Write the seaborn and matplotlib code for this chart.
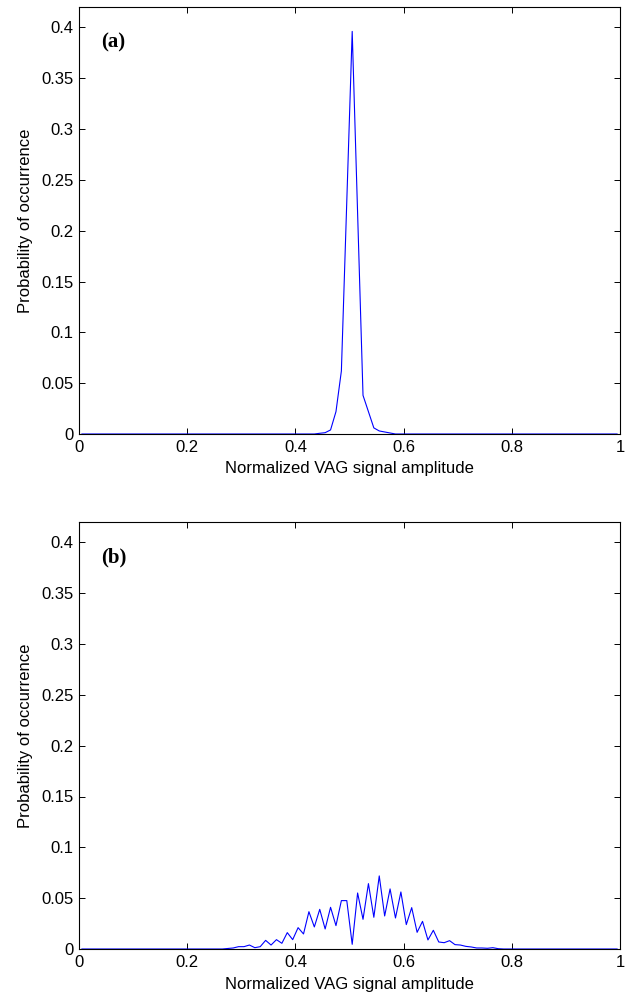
import matplotlib
matplotlib.use("Agg")
import matplotlib.pyplot as plt
import seaborn as sns

# histogram (a): bin centres and probability
amp_a = [0.005, 0.435, 0.445, 0.455, 0.465, 0.475, 0.485, 0.505, 0.525, 0.545,
         0.555, 0.565, 0.575, 0.585, 0.995]
prob_a = [0.0, 0.0, 0.0007, 0.0013, 0.004, 0.022, 0.062, 0.396, 0.038, 0.006,
          0.003, 0.002, 0.001, 0.0, 0.0]

# histogram (b)
amp_b = [0.005, 0.265, 0.275, 0.285, 0.295, 0.305, 0.315, 0.325, 0.335, 0.345,
         0.355, 0.365, 0.375, 0.385, 0.395, 0.405, 0.415, 0.425, 0.435, 0.445,
         0.455, 0.465, 0.475, 0.485, 0.495, 0.505, 0.515, 0.525, 0.535, 0.545,
         0.555, 0.565, 0.575, 0.585, 0.595, 0.605, 0.615, 0.625, 0.635, 0.645,
         0.655, 0.665, 0.675, 0.685, 0.695, 0.705, 0.715, 0.725, 0.735, 0.745,
         0.755, 0.765, 0.775, 0.785, 0.995]
prob_b = [0.0, 0.0, 0.0005, 0.001, 0.0023, 0.0023, 0.0039, 0.0013, 0.0023, 0.0085,
          0.0039, 0.0092, 0.0056, 0.0161, 0.0092, 0.021, 0.0148, 0.0367, 0.0217, 0.039,
          0.0197, 0.041, 0.023, 0.0476, 0.0476, 0.0046, 0.0551, 0.0292, 0.0643, 0.0312,
          0.0719, 0.0325, 0.0591, 0.0305, 0.0561, 0.024, 0.0407, 0.0164, 0.0272, 0.0089,
          0.0184, 0.0069, 0.0062, 0.0082, 0.0043, 0.0039, 0.0026, 0.002, 0.001, 0.001,
          0.0007, 0.0013, 0.0003, 0.0, 0.0]

x_ticks = [0, 0.2, 0.4, 0.6, 0.8, 1]
x_labels = ["0", "0.2", "0.4", "0.6", "0.8", "1"]
y_ticks = [0, 0.05, 0.1, 0.15, 0.2, 0.25, 0.3, 0.35, 0.4]
y_labels = ["0", "0.05", "0.1", "0.15", "0.2", "0.25", "0.3", "0.35", "0.4"]
panels = ["(a)", "(b)"]

sns.set_style("ticks")
plt.rcParams["font.family"] = ["Liberation Sans", "DejaVu Sans"]
plt.rcParams["font.size"] = 12
plt.rcParams["text.color"] = "black"
plt.rcParams["axes.labelcolor"] = "black"

fig = plt.figure(figsize=(6.3, 10), dpi=100)
ax_a = fig.add_axes([0.1254, 0.566, 0.8587, 0.427])
ax_b = fig.add_axes([0.1254, 0.051, 0.8587, 0.427])

for ax, xs, ys, name in [(ax_a, amp_a, prob_a, panels[0]), (ax_b, amp_b, prob_b, panels[1])]:
    sns.lineplot(x=xs, y=ys, ax=ax, color="#0000ff", linewidth=0.8, estimator=None)
    ax.set_xlim(0, 1)
    ax.set_ylim(0, 0.42)
    ax.set_xticks(x_ticks)
    ax.set_xticklabels(x_labels)
    ax.set_yticks(y_ticks)
    ax.set_yticklabels(y_labels)
    ax.tick_params(direction="in", top=True, right=True, length=4, width=0.7,
                   labelsize=12, colors="black", pad=4)
    for s in ax.spines.values():
        s.set_linewidth(0.8)
        s.set_color("black")
        s.set_visible(True)
    ax.set_xlabel("Normalized VAG signal amplitude", fontsize=12, labelpad=5)
    ax.set_ylabel("Probability of occurrence", fontsize=12, labelpad=6)
    ax.text(0.04, 0.918, name, transform=ax.transAxes, fontsize=15, color="black",
            fontweight="bold", family="Liberation Serif", va="center", ha="left")

fig.savefig("out.png", dpi=100)
